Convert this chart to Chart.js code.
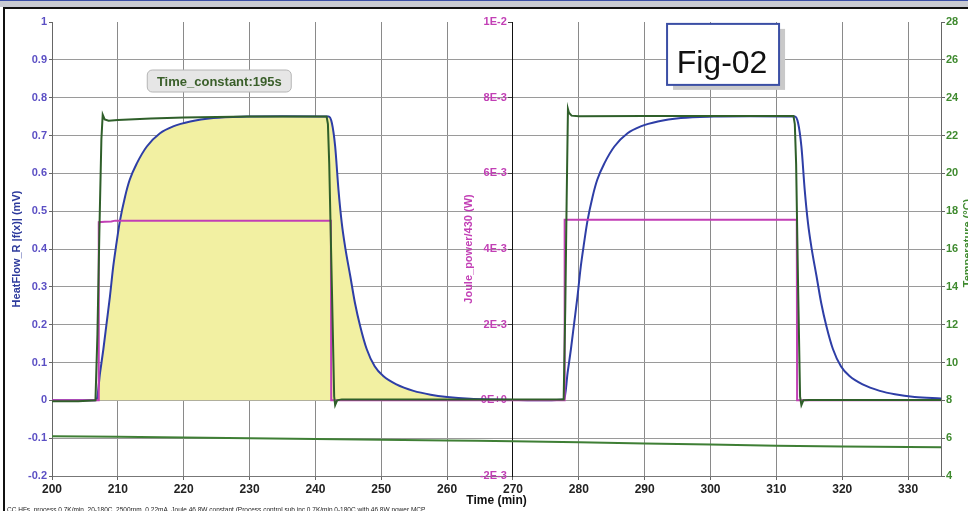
<!DOCTYPE html>
<html>
<head>
<meta charset="utf-8">
<script src="https://cdn.jsdelivr.net/npm/chart.js@4.4.0/dist/chart.umd.min.js"></script>
<style>
  body { margin: 0; width: 968px; height: 511px; overflow: hidden; background: #fff; position: relative; font-family: "Liberation Sans", Arial, sans-serif; }
  #bar { position: absolute; left: 0; top: 0; width: 968px; height: 6px; background: #c8cad2; border-top: 1px solid #3a4ea6; }
  #frameTop { position: absolute; left: 3px; top: 7px; width: 965px; height: 2px; background: #111; }
  #frameLeft { position: absolute; left: 3px; top: 7px; width: 2px; height: 504px; background: #111; }
  #wrap { position: absolute; left: 0; top: 0; width: 968px; height: 511px; }
  #note { position: absolute; left: 7px; top: 506px; font-size: 6.5px; white-space: nowrap; color: #222; }
</style>
</head>
<body>
<div id="wrap"><canvas id="chart" width="968" height="511"></canvas></div>
<div id="bar"></div>
<div id="frameTop"></div>
<div id="frameLeft"></div>
<div id="note">CC HFs, process 0.7K/min, 20-180C, 2500rpm, 0.22mA, Joule 46.8W constant (Process control sub inc 0.7K/min 0-180C with 46.8W power MCP</div>
<script>
const FONT = '"Liberation Sans", Arial, sans-serif';

// HeatFlow_R |f(x)| (mV) - blue
const heatTime = [200, 203, 206.5, 206.8, 207.3, 207.8, 208.3, 208.8, 209.3, 209.8,
  210.3, 211.1, 211.8, 212.9, 214.4, 216.4, 218.4, 221, 224.5, 229.6,
  235, 242, 242.5, 243, 243.5, 244, 244.5, 245.3, 246, 246.8,
  247.8, 249, 250.3, 252.3, 254.9, 257.5, 260, 263.5, 267, 270,
  275, 277.8, 278.3, 278.8, 279.3, 279.8, 280.3, 280.8, 281.3, 282.1,
  282.8, 283.9, 285.4, 287.4, 289.4, 292, 295.5, 300.5, 306, 312.8,
  313.3, 313.8, 314.3, 314.8, 315.3, 316.1, 316.8, 317.6, 318.6, 319.8,
  321.1, 323.1, 325.7, 328, 331, 335];
const heatFlow = [0, 0, 0, 0.003, 0.073, 0.135, 0.205, 0.275, 0.354, 0.416,
  0.473, 0.539, 0.583, 0.627, 0.671, 0.706, 0.724, 0.737, 0.746, 0.75,
  0.751, 0.75, 0.733, 0.671, 0.557, 0.469, 0.407, 0.328, 0.258, 0.196,
  0.135, 0.09, 0.064, 0.042, 0.025, 0.015, 0.009, 0.004, 0.002, 0.001,
  0, 0.003, 0.073, 0.135, 0.205, 0.275, 0.354, 0.416, 0.473, 0.539,
  0.583, 0.627, 0.671, 0.706, 0.724, 0.737, 0.746, 0.75, 0.751, 0.75,
  0.733, 0.671, 0.557, 0.469, 0.407, 0.328, 0.258, 0.196, 0.135, 0.09,
  0.064, 0.042, 0.025, 0.016, 0.009, 0.005];

// Temperature (°C) - dark green
const tempTime = [200, 204, 206.6, 206.9, 207.2, 207.5, 207.7, 208.0, 208.6, 210,
  215, 220, 225, 230, 241.7, 241.9, 242.1, 242.5, 242.85, 243.0,
  243.3, 244, 255, 270, 277.7, 277.95, 278.15, 278.35, 278.5, 278.9,
  280, 290, 300, 312.6, 312.8, 313.0, 313.3, 313.6, 313.8, 314.1,
  315, 335];
const tempVal = [7.95, 7.95, 8.0, 11.5, 17, 21.8, 23.1, 22.85, 22.78, 22.82,
  22.9, 22.95, 22.98, 23.0, 23.0, 22.6, 20.5, 14, 8.2, 7.75,
  8.0, 8.05, 8.05, 8.05, 8.05, 13, 18.5, 23.4, 23.2, 23.05,
  23.02, 23.03, 23.03, 23.03, 22.6, 20.5, 14, 8.2, 7.75, 8.0,
  8.02, 8.02];

// second temperature channel (°C)
const temp2Time = [200, 210, 220, 230, 240, 250, 260, 264.5, 270, 280, 290, 300, 310, 320, 335];
const temp2Val = [6.1, 6.08, 6.04, 6.0, 5.96, 5.92, 5.88, 5.86, 5.84, 5.78, 5.72, 5.66, 5.6, 5.56, 5.52];

// Joule_power/430 (W) - magenta
const jouleTime = [200, 207.05, 207.1, 208, 209, 209.6, 242.35, 242.4, 277.8, 277.85, 313.1, 313.15, 335];
const jouleVal = [0, 0, 0.00471, 0.00472, 0.00473, 0.00475, 0.00475, 0, 0, 0.00477, 0.00477, 0, 0];

// end of the shaded (integrated) area, min
const areaEnd = 263.5;

function pts(xs, ys) {
  return xs.map((x, i) => ({ x: x, y: ys[i] }));
}

const extras = {
  id: 'extras',
  afterDraw(chart) {
    const { ctx, chartArea, scales } = chart;
    const sx = scales.x, sy = scales.y;
    const midY = (chartArea.top + chartArea.bottom) / 2;

    // axis titles reading upwards
    ctx.save();
    ctx.font = 'bold 11px ' + FONT;
    ctx.textAlign = 'center';
    ctx.textBaseline = 'middle';
    ctx.fillStyle = '#c23fb5';
    ctx.translate(sx.getPixelForValue(270) - 44, midY);
    ctx.rotate(-Math.PI / 2);
    ctx.fillText('Joule_power/430 (W)', 0, 0);
    ctx.restore();

    ctx.save();
    ctx.font = 'bold 11px ' + FONT;
    ctx.textAlign = 'center';
    ctx.textBaseline = 'middle';
    ctx.fillStyle = '#3f8a2f';
    ctx.translate(chartArea.right + 27, midY - 6);
    ctx.rotate(-Math.PI / 2);
    ctx.fillText('Temperature (°C)', 0, 0);
    ctx.restore();

    // Time_constant label
    let cx = sx.getPixelForValue(225.4), cy = sy.getPixelForValue(0.844);
    let w = 144, h = 22, r = 5;
    let bx = cx - w / 2, by = cy - h / 2;
    ctx.save();
    ctx.beginPath();
    ctx.moveTo(bx + r, by);
    ctx.arcTo(bx + w, by, bx + w, by + h, r);
    ctx.arcTo(bx + w, by + h, bx, by + h, r);
    ctx.arcTo(bx, by + h, bx, by, r);
    ctx.arcTo(bx, by, bx + w, by, r);
    ctx.closePath();
    ctx.fillStyle = '#e6e6e6';
    ctx.fill();
    ctx.strokeStyle = '#b5b5b5';
    ctx.lineWidth = 1;
    ctx.stroke();
    ctx.font = 'bold 13px ' + FONT;
    ctx.fillStyle = '#3a5f2a';
    ctx.textAlign = 'center';
    ctx.textBaseline = 'middle';
    ctx.fillText('Time_constant:195s', cx, cy + 1);
    ctx.restore();

    // Fig-02 box
    bx = sx.getPixelForValue(293.4);
    by = sy.getPixelForValue(0.995);
    w = 112; h = 61;
    ctx.save();
    ctx.fillStyle = '#c9c9c9';
    ctx.fillRect(bx + 6, by + 5, w, h);
    ctx.fillStyle = '#fff';
    ctx.fillRect(bx, by, w, h);
    ctx.strokeStyle = '#3b4fa5';
    ctx.lineWidth = 2;
    ctx.strokeRect(bx, by, w, h);
    ctx.font = '32px ' + FONT;
    ctx.fillStyle = '#111';
    ctx.textAlign = 'center';
    ctx.textBaseline = 'alphabetic';
    ctx.fillText('Fig-02', bx + w / 2 - 1, by + 49);
    ctx.restore();
  }
};

new Chart(document.getElementById('chart'), {
  type: 'line',
  data: {
    datasets: [
      { label: 'Temperature', data: pts(tempTime, tempVal), yAxisID: 'yT',
        borderColor: '#2f5f2a', borderWidth: 2, pointRadius: 0 },
      { label: 'Joule_power/430', data: pts(jouleTime, jouleVal), yAxisID: 'yJ',
        borderColor: '#c23fb5', borderWidth: 2, pointRadius: 0 },
      { label: 'HeatFlow_R', data: pts(heatTime, heatFlow), yAxisID: 'y',
        borderColor: '#2e3ea6', borderWidth: 2, pointRadius: 0, cubicInterpolationMode: 'monotone' },
      { label: 'Temperature 2', data: pts(temp2Time, temp2Val), yAxisID: 'yT',
        borderColor: '#3f7f35', borderWidth: 2, pointRadius: 0 },
      { label: 'area', data: pts(heatTime, heatFlow).filter(p => p.x <= areaEnd), yAxisID: 'y',
        borderWidth: 0, borderColor: 'rgba(0,0,0,0)', backgroundColor: '#f2f0a2',
        fill: 'origin', pointRadius: 0, cubicInterpolationMode: 'monotone' }
    ]
  },
  options: {
    animation: false,
    responsive: false,
    layout: { padding: { top: 22, left: 0, right: 0, bottom: 0 } },
    plugins: { legend: { display: false }, tooltip: { enabled: false } },
    scales: {
      x: {
        type: 'linear', min: 200, max: 335,
        ticks: { stepSize: 10, includeBounds: false, color: '#222', padding: 2, maxRotation: 0,
          font: { family: FONT, size: 12, weight: 'bold' } },
        grid: { color: '#8a8a8a', tickLength: 4, tickColor: '#666' },
        border: { color: '#777' },
        title: { display: true, text: 'Time (min)', color: '#111',
          font: { family: FONT, size: 12, weight: 'bold' }, padding: { top: 0, bottom: 3 } },
        afterFit: s => { s.height = 35; }
      },
      y: {
        position: 'left', min: -0.2, max: 1,
        ticks: { stepSize: 0.1, color: '#5b4fc4', padding: 2,
          font: { family: FONT, size: 11, weight: 'bold' },
          callback: v => String(+v.toFixed(2)) },
        grid: { color: c => (c.tick && Math.abs(c.tick.value - 1) < 1e-6) ? 'rgba(0,0,0,0)' : '#9a9a9a',
          tickLength: 3, tickColor: '#666' },
        border: { color: '#666' },
        title: { display: true, text: 'HeatFlow_R |f(x)| (mV)', color: '#2d3a9c',
          font: { family: FONT, size: 11, weight: 'bold' }, padding: { top: 10, bottom: 0 } },
        afterFit: s => { s.width = 52; }
      },
      yJ: {
        position: { x: 270 }, min: -0.002, max: 0.01,
        ticks: { stepSize: 0.002, color: '#c23fb5',
          font: { family: FONT, size: 11, weight: 'bold' },
          callback: v => v.toExponential(0).toUpperCase() + '  ' },
        grid: { drawOnChartArea: false, tickLength: 4, tickColor: '#444' },
        border: { color: '#111' }
      },
      yT: {
        position: 'right', min: 4, max: 28,
        ticks: { stepSize: 2, color: '#3f8a2f', padding: 1,
          font: { family: FONT, size: 11, weight: 'bold' } },
        grid: { drawOnChartArea: false, tickLength: 4, tickColor: '#666' },
        border: { color: '#666' },
        afterFit: s => { s.width = 27; }
      }
    }
  },
  plugins: [extras]
});
</script>
</body>
</html>
